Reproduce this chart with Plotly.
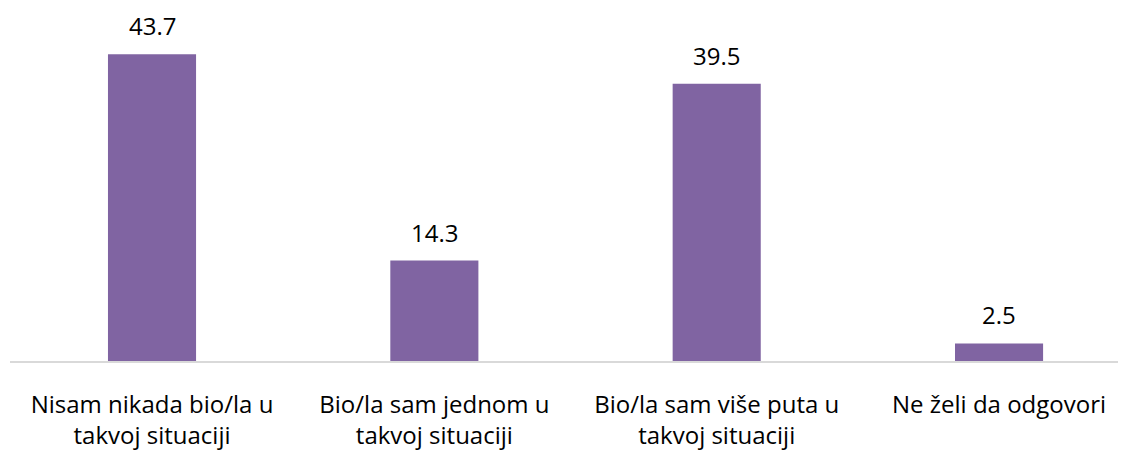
import plotly.graph_objects as go

categories = ["Nisam nikada bio/la u<br>takvoj situaciji",
              "Bio/la sam jednom u<br>takvoj situaciji",
              "Bio/la sam više puta u<br>takvoj situaciji",
              "Ne želi da odgovori"]
values = [43.7, 14.3, 39.5, 2.5]

FONT = "Open Sans, Noto Sans, sans-serif"
COLOR = "#8064A2"

fig = go.Figure()
fig.add_trace(go.Bar(x=list(range(len(categories))), y=values,
                     marker=dict(color=COLOR, line=dict(width=0)),
                     width=0.312, hoverinfo="skip"))

for i, v in enumerate(values):
    fig.add_annotation(x=i, y=v, text=f"{v:.1f}", showarrow=False,
                       yanchor="bottom", yshift=10,
                       font=dict(family=FONT, size=24, color="#000000"))

fig.update_layout(
    width=1126, height=450,
    margin=dict(l=2, r=0, t=2, b=97),
    plot_bgcolor="white", paper_bgcolor="white",
    showlegend=False,
    xaxis=dict(range=[-0.503, 3.478], tickmode="array",
               tickvals=list(range(len(categories))), ticktext=categories,
               showgrid=False, zeroline=False, showline=True,
               linecolor="#D9D9D9", linewidth=2, ticks="",
               tickfont=dict(family=FONT, size=24, color="#000000"),
               ticklabelstandoff=21, automargin=False),
    yaxis=dict(range=[0, 50], visible=False, showgrid=False, zeroline=False),
)

fig.write_html("out.html")
